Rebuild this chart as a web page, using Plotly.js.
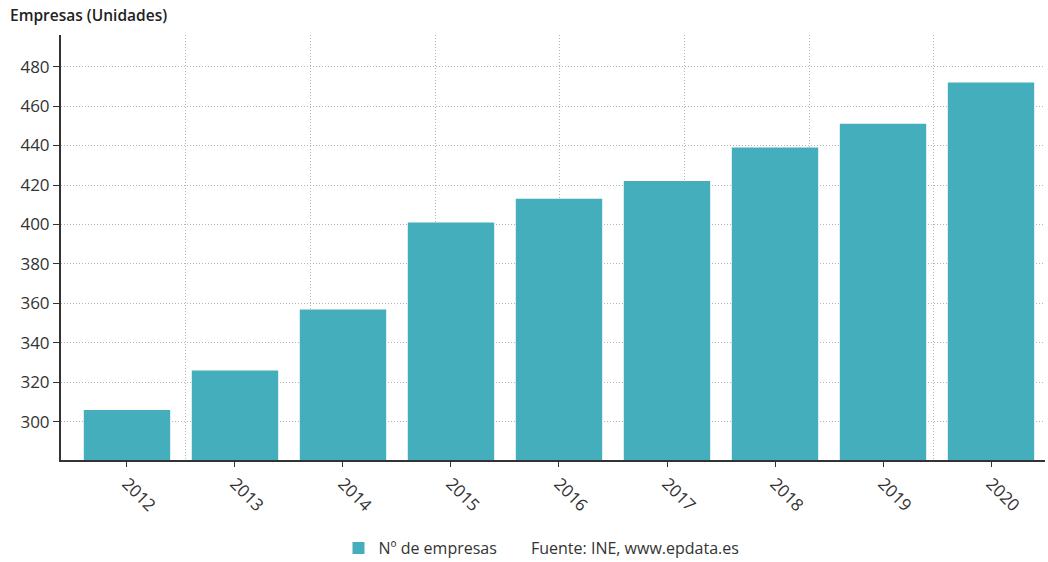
<!DOCTYPE html>
<html>
<head>
<meta charset="utf-8">
<script src="https://cdn.plot.ly/plotly-3.0.1.min.js"></script>
<style>html,body{margin:0;padding:0;background:#fff;}#chart{width:1048px;height:562px;}</style>
</head>
<body>
<div id="chart"></div>
<script>
const years = ['2012','2013','2014','2015','2016','2017','2018','2019','2020'];
const empresas = [306, 326, 357, 401, 413, 422, 439, 451, 472];
const yTicks = [300, 320, 340, 360, 380, 400, 420, 440, 460, 480];
const seriesName = 'Nº de empresas';
const sourceText = 'Fuente: INE, www.epdata.es';
const yTitle = 'Empresas (Unidades)';

const data = [
  {
    type: 'bar', x: years, y: empresas, name: seriesName,
    marker: {color: '#45aebd'}, hoverinfo: 'x+y'
  },
  {
    type: 'scatter', x: [0], y: [300], xaxis: 'x2', mode: 'markers',
    marker: {opacity: 0}, showlegend: false, hoverinfo: 'skip'
  }
];

const fam = '"Open Sans", "Noto Sans", sans-serif';
const gridDash = '1px,2px';

const layout = {
  width: 1048, height: 562,
  margin: {l: 61, r: 3, t: 35, b: 102, autoexpand: false},
  paper_bgcolor: '#fff', plot_bgcolor: '#fff',
  font: {family: fam, color: '#333', size: 16},
  bargap: 0.2,
  showlegend: true,
  legend: {orientation: 'h', x: 0.282, y: -0.207, xanchor: 'left', yanchor: 'middle',
           itemwidth: 30,
           font: {family: fam, size: 16, color: '#333'}},
  xaxis: {
    type: 'category', range: [-0.611, 8.5], automargin: false,
    showgrid: false, showline: true, linecolor: '#333', linewidth: 2,
    ticks: 'outside', ticklen: 5, tickcolor: '#333', tickangle: 45,
    tickfont: {family: fam, size: 17, color: '#333'}, zeroline: false
  },
  xaxis2: {
    overlaying: 'x', range: [0, 984/124.7], dtick: 1, tick0: 0, automargin: false,
    showgrid: true, griddash: gridDash, gridcolor: '#b5b5b5', gridwidth: 1,
    showticklabels: false, ticks: '', zeroline: false, showline: false
  },
  yaxis: {
    range: [280.7, 496], tickvals: yTicks, automargin: false,
    showgrid: true, griddash: gridDash, gridcolor: '#b5b5b5', gridwidth: 1,
    showline: true, linecolor: '#333', linewidth: 2,
    ticks: 'outside', ticklen: 6, tickcolor: '#333',
    tickfont: {family: fam, size: 17, color: '#333'}, zeroline: false
  },
  annotations: [
    {text: yTitle, xref: 'paper', yref: 'paper', x: -0.0539, y: 1.047, xanchor: 'left', yanchor: 'middle',
     showarrow: false, font: {family: fam, size: 15.5, color: '#222', weight: 600}},
    {text: sourceText, xref: 'paper', yref: 'paper', x: 0.476, y: -0.207, xanchor: 'left', yanchor: 'middle',
     showarrow: false, font: {family: fam, size: 16, color: '#333'}}
  ]
};

Plotly.newPlot('chart', data, layout, {displayModeBar: false, staticPlot: true});
</script>
</body>
</html>
